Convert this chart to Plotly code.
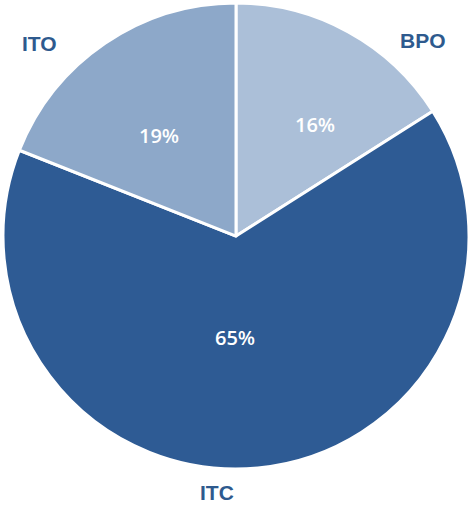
import plotly.graph_objects as go

categories = ["BPO", "ITC", "ITO"]
values = [16, 65, 19]
colors = ["#abbfd8", "#2e5b94", "#8da8c9"]

W, H = 469, 506
# label placement in pixels (layout only)
name_pos = {"BPO": (422.5, 40.5), "ITO": (39.5, 43.5), "ITC": (217, 492.5)}
pct_pos = {"BPO": (314.5, 124), "ITO": (158.5, 135), "ITC": (234.5, 337.5)}

fig = go.Figure(go.Pie(
    labels=categories,
    values=values,
    sort=False,
    direction="clockwise",
    rotation=0,
    marker=dict(colors=colors, line=dict(color="white", width=3)),
    textinfo="none",
    domain=dict(x=[3/W, 1.0], y=[0.0731, 0.994]),
    showlegend=False,
    hoverinfo="label+percent",
))

total = sum(values)
for name, v in zip(categories, values):
    x, y = name_pos[name]
    fig.add_annotation(x=x / W, y=1 - y / H, xref="paper", yref="paper", text="<b>%s</b>" % name,
                       showarrow=False, font=dict(family="Liberation Sans", size=21, color="#2e5a8e"),
                       xanchor="center", yanchor="middle")
    px, py = pct_pos[name]
    fig.add_annotation(x=px / W, y=1 - py / H, xref="paper", yref="paper",
                       text="%d%%" % round(100 * v / total),
                       showarrow=False, font=dict(family="Open Sans", size=20, color="white", weight=600),
                       xanchor="center", yanchor="middle")

fig.update_layout(width=W, height=H, margin=dict(l=0, r=0, t=0, b=0),
                  paper_bgcolor="white", plot_bgcolor="white")
fig.write_html("out.html")
